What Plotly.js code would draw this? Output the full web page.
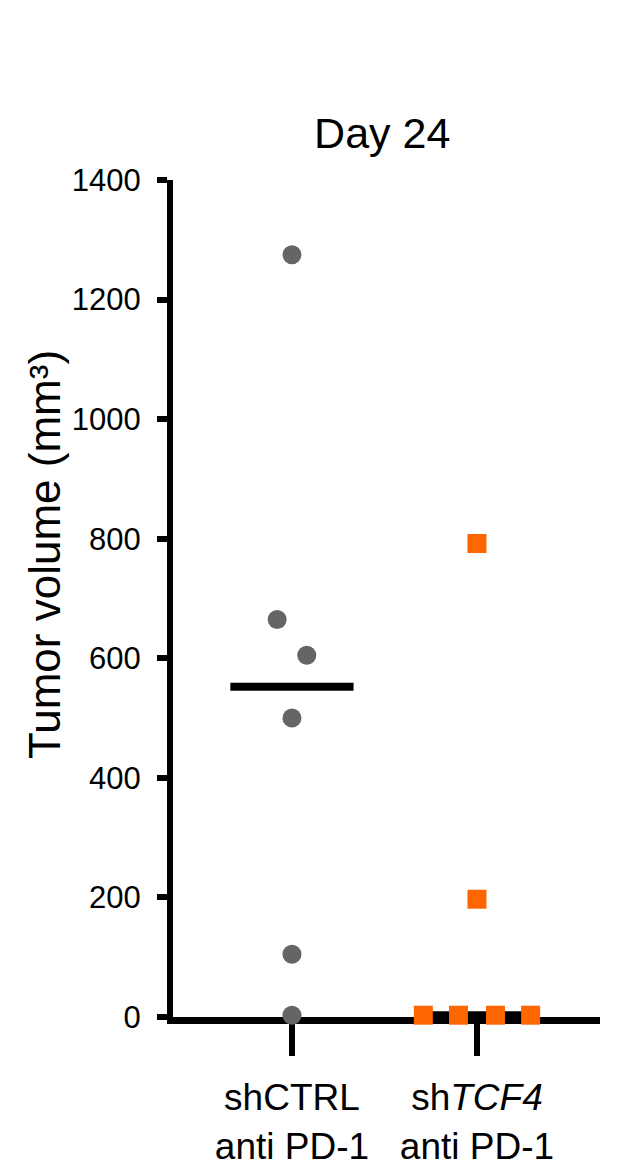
<!DOCTYPE html>
<html>
<head>
<meta charset="utf-8">
<script src="https://cdn.plot.ly/plotly-3.0.1.min.js"></script>
<style>
  html, body { margin: 0; padding: 0; background: #fff; }
  #chart { width: 620px; height: 1173px; }
</style>
</head>
<body>
<div id="chart"></div>
<script>
// groups on the x axis
const groups = [1, 2];
const groupLabels = ["shCTRL<br>anti PD-1", "sh<i>TCF4</i><br>anti PD-1"];

// tumour volume (mm3) at day 24, one value per mouse
const ctrlValues = [1275, 665, 605, 500, 105, 3];
const tcf4Values = [792, 197, 3, 3, 3, 3];

// horizontal scatter of the dots inside each group
const ctrlJitter = [0, -0.08, 0.08, 0, 0, 0];
const tcf4Jitter = [0, 0, -0.29, -0.1, 0.1, 0.29];

const yTicks = [0, 200, 400, 600, 800, 1000, 1200, 1400];

const FONT = "Liberation Sans, Arial, Helvetica, sans-serif";

function median(arr) {
  const s = arr.slice().sort((a, b) => a - b);
  const m = Math.floor(s.length / 2);
  return s.length % 2 ? s[m] : (s[m - 1] + s[m]) / 2;
}

function medianLine(g, vals) {
  const m = median(vals);
  return {
    x: [g - 0.333, g + 0.333],
    y: [m, m],
    type: "scatter",
    mode: "lines",
    line: { color: "#000", width: 8 },
    hoverinfo: "skip",
    showlegend: false,
  };
}

const traces = [
  medianLine(groups[0], ctrlValues),
  medianLine(groups[1], tcf4Values),
  {
    x: ctrlValues.map((v, i) => groups[0] + ctrlJitter[i]),
    y: ctrlValues,
    type: "scatter",
    mode: "markers",
    marker: { symbol: "circle", size: 19, color: "#656565" },
    cliponaxis: false,
    showlegend: false,
  },
  {
    x: tcf4Values.map((v, i) => groups[1] + tcf4Jitter[i]),
    y: tcf4Values,
    type: "scatter",
    mode: "markers",
    marker: { symbol: "square", size: 19, color: "#ff6600" },
    cliponaxis: false,
    showlegend: false,
  },
];

const layout = {
  width: 620,
  height: 1173,
  margin: { l: 173, r: 20, t: 180, b: 156 },
  paper_bgcolor: "#fff",
  plot_bgcolor: "#fff",
  font: { family: FONT, color: "#000" },
  title: {
    text: "Day 24",
    font: { family: FONT, size: 43, color: "#000" },
    xref: "paper",
    x: 0.49,
    xanchor: "center",
    yref: "container",
    y: 1 - 133 / 1173,
    yanchor: "middle",
  },
  xaxis: {
    range: [0.357, 2.665],
    tickmode: "array",
    tickvals: groups,
    ticktext: groupLabels,
    showline: true,
    linecolor: "#000",
    linewidth: 7,
    ticks: "outside",
    ticklen: 32,
    tickwidth: 6,
    tickcolor: "#000",
    tickfont: { family: FONT, size: 37, color: "#000" },
    ticklabelstandoff: 10,
    showgrid: false,
    zeroline: false,
    layer: "below traces",
    fixedrange: true,
  },
  yaxis: {
    range: [0, 1400],
    tickmode: "array",
    tickvals: yTicks,
    ticktext: yTicks.map(String),
    showline: true,
    linecolor: "#000",
    linewidth: 6,
    ticks: "outside",
    ticklen: 10,
    tickwidth: 6,
    tickcolor: "#000",
    tickfont: { family: FONT, size: 31, color: "#000" },
    ticklabelstandoff: 10,
    showgrid: false,
    zeroline: false,
    layer: "below traces",
    automargin: false,
    fixedrange: true,
  },
  annotations: [
    {
      text: "Tumor volume (mm³)",
      font: { family: FONT, size: 44, color: "#000" },
      textangle: -90,
      xref: "paper",
      yref: "paper",
      x: (44 - 173) / 427,
      y: (1017 - 555) / 837,
      xanchor: "center",
      yanchor: "middle",
      showarrow: false,
    },
  ],
  showlegend: false,
};

Plotly.newPlot("chart", traces, layout, { displayModeBar: false, staticPlot: true });
</script>
</body>
</html>
